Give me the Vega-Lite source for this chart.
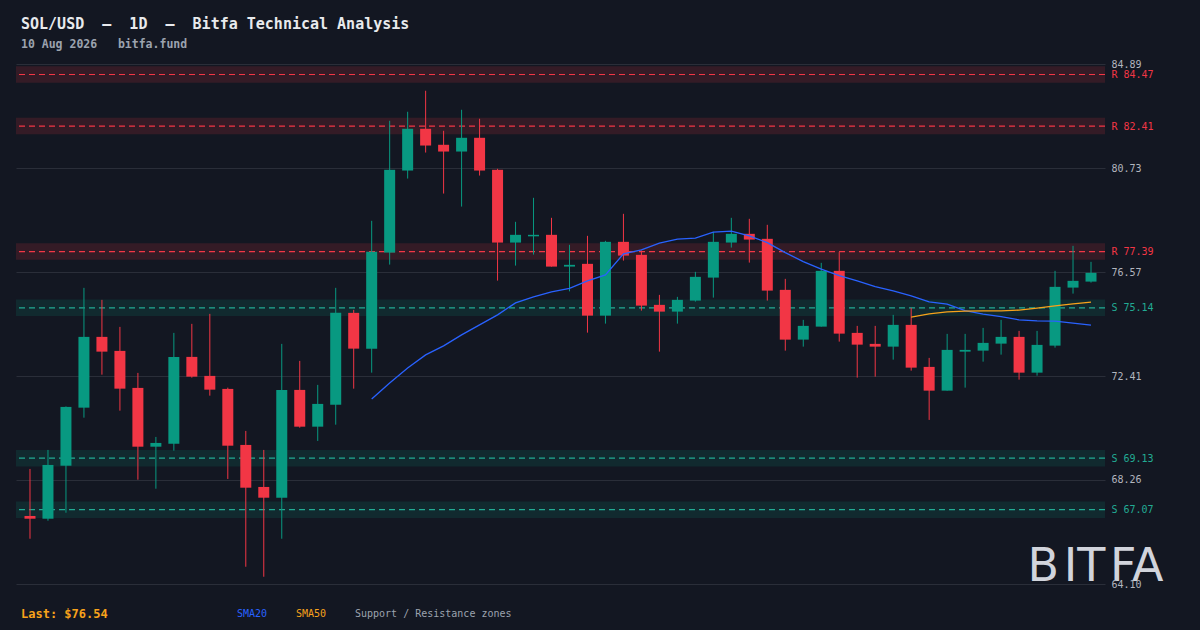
{
  "$schema": "https://vega.github.io/schema/vega-lite/v6.json",
  "width": 1089,
  "height": 520,
  "autosize": {"type": "none"},
  "padding": {"left": 16, "top": 64, "right": 95, "bottom": 46},
  "background": "#131722",
  "config": {"view": {"stroke": null}, "font": "DejaVu Sans Mono"},
  "title": {
    "text": "SOL/USD\u00a0\u00a0—\u00a0\u00a01D\u00a0\u00a0—\u00a0\u00a0Bitfa Technical Analysis",
    "subtitle": "10 Aug 2026\u00a0\u00a0\u00a0bitfa.fund",
    "anchor": "start",
    "frame": "group",
    "dx": 5,
    "offset": 9,
    "font": "DejaVu Sans Mono",
    "fontSize": 15,
    "fontWeight": "bold",
    "color": "#e8eaed",
    "subtitleFont": "DejaVu Sans Mono",
    "subtitleFontSize": 11.5,
    "subtitleFontWeight": "bold",
    "subtitleColor": "#9ca3af",
    "subtitlePadding": 7
  },
  "datasets": {
    "levels": [
      {"kind": "R", "level": 84.47, "lo": 84.14, "hi": 84.80},
      {"kind": "R", "level": 82.41, "lo": 82.08, "hi": 82.74},
      {"kind": "R", "level": 77.39, "lo": 77.06, "hi": 77.72},
      {"kind": "S", "level": 75.14, "lo": 74.81, "hi": 75.47},
      {"kind": "S", "level": 69.13, "lo": 68.80, "hi": 69.46},
      {"kind": "S", "level": 67.07, "lo": 66.74, "hi": 67.40}
    ],
    "candles": [
      {"i": 0, "open": 66.82, "high": 68.70, "low": 65.91, "close": 66.71},
      {"i": 1, "open": 66.71, "high": 69.46, "low": 66.63, "close": 68.86},
      {"i": 2, "open": 68.83, "high": 71.20, "low": 66.95, "close": 71.18},
      {"i": 3, "open": 71.15, "high": 75.94, "low": 70.75, "close": 73.98},
      {"i": 4, "open": 73.98, "high": 75.46, "low": 72.47, "close": 73.39},
      {"i": 5, "open": 73.42, "high": 74.38, "low": 71.03, "close": 71.91},
      {"i": 6, "open": 71.94, "high": 72.54, "low": 68.27, "close": 69.59},
      {"i": 7, "open": 69.59, "high": 69.98, "low": 67.91, "close": 69.74},
      {"i": 8, "open": 69.71, "high": 74.14, "low": 69.43, "close": 73.18},
      {"i": 9, "open": 73.18, "high": 74.50, "low": 72.35, "close": 72.39},
      {"i": 10, "open": 72.42, "high": 74.90, "low": 71.63, "close": 71.87},
      {"i": 11, "open": 71.90, "high": 71.95, "low": 68.30, "close": 69.63},
      {"i": 12, "open": 69.66, "high": 70.22, "low": 64.79, "close": 67.95},
      {"i": 13, "open": 67.98, "high": 69.46, "low": 64.39, "close": 67.55},
      {"i": 14, "open": 67.55, "high": 73.70, "low": 65.91, "close": 71.86},
      {"i": 15, "open": 71.86, "high": 73.02, "low": 70.35, "close": 70.39},
      {"i": 16, "open": 70.39, "high": 72.06, "low": 69.82, "close": 71.30},
      {"i": 17, "open": 71.27, "high": 75.94, "low": 70.47, "close": 74.94},
      {"i": 18, "open": 74.94, "high": 75.06, "low": 71.91, "close": 73.51},
      {"i": 19, "open": 73.51, "high": 78.62, "low": 72.55, "close": 77.38},
      {"i": 20, "open": 77.35, "high": 82.62, "low": 76.87, "close": 80.66},
      {"i": 21, "open": 80.63, "high": 82.98, "low": 80.31, "close": 82.30},
      {"i": 22, "open": 82.30, "high": 83.82, "low": 81.35, "close": 81.63},
      {"i": 23, "open": 81.66, "high": 82.22, "low": 79.71, "close": 81.39},
      {"i": 24, "open": 81.39, "high": 83.06, "low": 79.19, "close": 81.94},
      {"i": 25, "open": 81.94, "high": 82.70, "low": 80.43, "close": 80.63},
      {"i": 26, "open": 80.66, "high": 80.70, "low": 76.23, "close": 77.75},
      {"i": 27, "open": 77.75, "high": 78.58, "low": 76.83, "close": 78.06},
      {"i": 28, "open": 78.00, "high": 79.54, "low": 77.27, "close": 78.06},
      {"i": 29, "open": 78.06, "high": 78.74, "low": 76.79, "close": 76.79},
      {"i": 30, "open": 76.79, "high": 77.66, "low": 75.80, "close": 76.86},
      {"i": 31, "open": 76.90, "high": 78.02, "low": 74.15, "close": 74.83},
      {"i": 32, "open": 74.83, "high": 77.82, "low": 74.51, "close": 77.78},
      {"i": 33, "open": 77.78, "high": 78.90, "low": 77.03, "close": 77.23},
      {"i": 34, "open": 77.26, "high": 77.43, "low": 75.03, "close": 75.23},
      {"i": 35, "open": 75.26, "high": 75.66, "low": 73.39, "close": 74.99},
      {"i": 36, "open": 74.99, "high": 75.58, "low": 74.51, "close": 75.46},
      {"i": 37, "open": 75.43, "high": 76.58, "low": 75.39, "close": 76.38},
      {"i": 38, "open": 76.35, "high": 78.18, "low": 75.55, "close": 77.78},
      {"i": 39, "open": 77.75, "high": 78.74, "low": 77.55, "close": 78.10},
      {"i": 40, "open": 78.10, "high": 78.70, "low": 76.95, "close": 77.87},
      {"i": 41, "open": 77.90, "high": 78.46, "low": 75.43, "close": 75.83},
      {"i": 42, "open": 75.86, "high": 76.30, "low": 73.43, "close": 73.87},
      {"i": 43, "open": 73.87, "high": 74.66, "low": 73.59, "close": 74.42},
      {"i": 44, "open": 74.39, "high": 76.94, "low": 74.39, "close": 76.62},
      {"i": 45, "open": 76.62, "high": 77.37, "low": 73.79, "close": 74.11},
      {"i": 46, "open": 74.14, "high": 74.42, "low": 72.35, "close": 73.67},
      {"i": 47, "open": 73.70, "high": 74.42, "low": 72.39, "close": 73.59},
      {"i": 48, "open": 73.59, "high": 74.86, "low": 73.07, "close": 74.46},
      {"i": 49, "open": 74.46, "high": 75.14, "low": 72.63, "close": 72.75},
      {"i": 50, "open": 72.78, "high": 73.14, "low": 70.66, "close": 71.83},
      {"i": 51, "open": 71.83, "high": 74.10, "low": 71.83, "close": 73.46},
      {"i": 52, "open": 73.39, "high": 74.10, "low": 71.95, "close": 73.46},
      {"i": 53, "open": 73.43, "high": 74.34, "low": 72.99, "close": 73.74},
      {"i": 54, "open": 73.71, "high": 74.66, "low": 73.27, "close": 73.98},
      {"i": 55, "open": 73.98, "high": 74.22, "low": 72.27, "close": 72.55},
      {"i": 56, "open": 72.55, "high": 74.22, "low": 72.43, "close": 73.66},
      {"i": 57, "open": 73.63, "high": 76.62, "low": 73.55, "close": 75.98},
      {"i": 58, "open": 75.95, "high": 77.62, "low": 75.71, "close": 76.22},
      {"i": 59, "open": 76.19, "high": 76.98, "low": 76.15, "close": 76.54}
    ],
    "sma": [
      {"i": 19, "series": "SMA20", "value": 71.50},
      {"i": 20, "series": "SMA20", "value": 72.14},
      {"i": 21, "series": "SMA20", "value": 72.74},
      {"i": 22, "series": "SMA20", "value": 73.26},
      {"i": 23, "series": "SMA20", "value": 73.62},
      {"i": 24, "series": "SMA20", "value": 74.06},
      {"i": 25, "series": "SMA20", "value": 74.46},
      {"i": 26, "series": "SMA20", "value": 74.86},
      {"i": 27, "series": "SMA20", "value": 75.34},
      {"i": 28, "series": "SMA20", "value": 75.58},
      {"i": 29, "series": "SMA20", "value": 75.78},
      {"i": 30, "series": "SMA20", "value": 75.92},
      {"i": 31, "series": "SMA20", "value": 76.22},
      {"i": 32, "series": "SMA20", "value": 76.46},
      {"i": 33, "series": "SMA20", "value": 77.30},
      {"i": 34, "series": "SMA20", "value": 77.46},
      {"i": 35, "series": "SMA20", "value": 77.73},
      {"i": 36, "series": "SMA20", "value": 77.89},
      {"i": 37, "series": "SMA20", "value": 77.93},
      {"i": 38, "series": "SMA20", "value": 78.17},
      {"i": 39, "series": "SMA20", "value": 78.21},
      {"i": 40, "series": "SMA20", "value": 78.02},
      {"i": 41, "series": "SMA20", "value": 77.75},
      {"i": 42, "series": "SMA20", "value": 77.35},
      {"i": 43, "series": "SMA20", "value": 76.99},
      {"i": 44, "series": "SMA20", "value": 76.69},
      {"i": 45, "series": "SMA20", "value": 76.43},
      {"i": 46, "series": "SMA20", "value": 76.22},
      {"i": 47, "series": "SMA20", "value": 75.99},
      {"i": 48, "series": "SMA20", "value": 75.82},
      {"i": 49, "series": "SMA20", "value": 75.62},
      {"i": 50, "series": "SMA20", "value": 75.38},
      {"i": 51, "series": "SMA20", "value": 75.29},
      {"i": 52, "series": "SMA20", "value": 75.03},
      {"i": 53, "series": "SMA20", "value": 74.89},
      {"i": 54, "series": "SMA20", "value": 74.79},
      {"i": 55, "series": "SMA20", "value": 74.66},
      {"i": 56, "series": "SMA20", "value": 74.62},
      {"i": 57, "series": "SMA20", "value": 74.61},
      {"i": 58, "series": "SMA20", "value": 74.53},
      {"i": 59, "series": "SMA20", "value": 74.45},
      {"i": 49, "series": "SMA50", "value": 74.77},
      {"i": 50, "series": "SMA50", "value": 74.90},
      {"i": 51, "series": "SMA50", "value": 74.98},
      {"i": 52, "series": "SMA50", "value": 75.01},
      {"i": 53, "series": "SMA50", "value": 75.02},
      {"i": 54, "series": "SMA50", "value": 75.02},
      {"i": 55, "series": "SMA50", "value": 75.05},
      {"i": 56, "series": "SMA50", "value": 75.13},
      {"i": 57, "series": "SMA50", "value": 75.22},
      {"i": 58, "series": "SMA50", "value": 75.30},
      {"i": 59, "series": "SMA50", "value": 75.37}
    ]
  },
  "encoding": {
    "y": {
      "field": "lo", "type": "quantitative",
      "scale": {"domain": [64.10, 84.89], "nice": false, "zero": false},
      "axis": {
        "orient": "right",
        "title": null,
        "values": [84.89, 84.47, 82.41, 80.73, 77.39, 76.57, 75.14, 72.41, 69.13, 68.26, 67.07, 64.10],
        "labelExpr": "indexof([84.47,82.41,77.39], datum.value) >= 0 ? 'R ' + format(datum.value, '.2f') : indexof([75.14,69.13,67.07], datum.value) >= 0 ? 'S ' + format(datum.value, '.2f') : format(datum.value, '.2f')",
        "labelColor": {
          "condition": [
            {"test": "indexof([84.47,82.41,77.39], datum.value) >= 0", "value": "#f23645"},
            {"test": "indexof([75.14,69.13,67.07], datum.value) >= 0", "value": "#22ab94"}
          ],
          "value": "#b2b5be"
        },
        "gridOpacity": {
          "condition": {"test": "indexof([84.47,82.41,77.39,75.14,69.13,67.07], datum.value) >= 0", "value": 0},
          "value": 1
        },
        "gridColor": "#2a2e39",
        "grid": true,
        "gridWidth": 1,
        "domain": false,
        "ticks": false,
        "labelPadding": 6,
        "labelFont": "DejaVu Sans Mono",
        "labelFontSize": 10,
        "labelOverlap": false,
        "labelFlush": false,
        "labelBaseline": "middle"
      }
    }
  },
  "layer": [
    {
      "data": {"name": "levels"},
      "mark": {"type": "rect", "opacity": 0.15},
      "encoding": {
        "y2": {"field": "hi"},
        "color": {"condition": {"test": "datum.kind == 'R'", "value": "#f23645"}, "value": "#089981"}
      }
    },
    {
      "data": {"name": "levels"},
      "mark": {"type": "rule", "strokeDash": [6, 4], "strokeWidth": 1.2},
      "encoding": {
        "y": {"field": "level", "type": "quantitative", "scale": {"domain": [64.10, 84.89], "nice": false, "zero": false}},
        "color": {"condition": {"test": "datum.kind == 'R'", "value": "#f23645"}, "value": "#22ab94"}
      }
    },
    {
      "data": {"name": "candles"},
      "mark": {"type": "rule", "strokeWidth": 1},
      "encoding": {
        "x": {
          "field": "i", "type": "quantitative",
          "scale": {"domain": [-0.5, 59.5], "nice": false, "zero": false},
          "axis": {
            "title": "B\u200aIT\u200aFA",
            "labels": false, "ticks": false, "domain": false, "grid": false,
            "titleFont": "DejaVu Sans",
            "titleFontSize": 46,
            "titleFontWeight": "normal",
            "titleColor": "#d1d4dc",
            "titleAlign": "left",
            "titleBaseline": "alphabetic",
            "titleX": 1011,
            "titleY": -4
          }
        },
        "y": {"field": "low", "type": "quantitative", "scale": {"domain": [64.10, 84.89], "nice": false, "zero": false}},
        "y2": {"field": "high"},
        "color": {"condition": {"test": "datum.close >= datum.open", "value": "#089981"}, "value": "#f23645"}
      }
    },
    {
      "data": {"name": "candles"},
      "mark": {"type": "bar", "width": 11},
      "encoding": {
        "x": {"field": "i", "type": "quantitative", "scale": {"domain": [-0.5, 59.5], "nice": false, "zero": false}},
        "y": {"field": "open", "type": "quantitative", "scale": {"domain": [64.10, 84.89], "nice": false, "zero": false}},
        "y2": {"field": "close"},
        "color": {"condition": {"test": "datum.close >= datum.open", "value": "#089981"}, "value": "#f23645"}
      }
    },
    {
      "data": {"name": "sma"},
      "mark": {"type": "line", "strokeWidth": 1.3},
      "encoding": {
        "x": {"field": "i", "type": "quantitative", "scale": {"domain": [-0.5, 59.5], "nice": false, "zero": false}},
        "y": {"field": "value", "type": "quantitative", "scale": {"domain": [64.10, 84.89], "nice": false, "zero": false}},
        "color": {
          "field": "series", "type": "nominal",
          "scale": {"domain": ["SMA20", "SMA50", "Support / Resistance zones"], "range": ["#2962ff", "#f7a21b", "#9ca3af"]},
          "legend": {
            "orient": "none",
            "legendX": 5,
            "legendY": 545,
            "direction": "horizontal",
            "title": "Last: $76.54",
            "titleOrient": "left",
            "titleColor": "#f7a21b",
            "titleFont": "DejaVu Sans Mono",
            "titleFontSize": 12,
            "titleFontWeight": "bold",
            "titlePadding": 119,
            "symbolSize": 0,
            "symbolOpacity": 0,
            "symbolStrokeWidth": 0,
            "labelOffset": 0,
            "labelFont": "DejaVu Sans Mono",
            "labelFontSize": 10,
            "labelLimit": 400,
            "columnPadding": 18,
            "labelColor": {"expr": "datum.label == 'SMA20' ? '#2962ff' : datum.label == 'SMA50' ? '#f7a21b' : '#9ca3af'"}
          }
        }
      }
    }
  ]
}
